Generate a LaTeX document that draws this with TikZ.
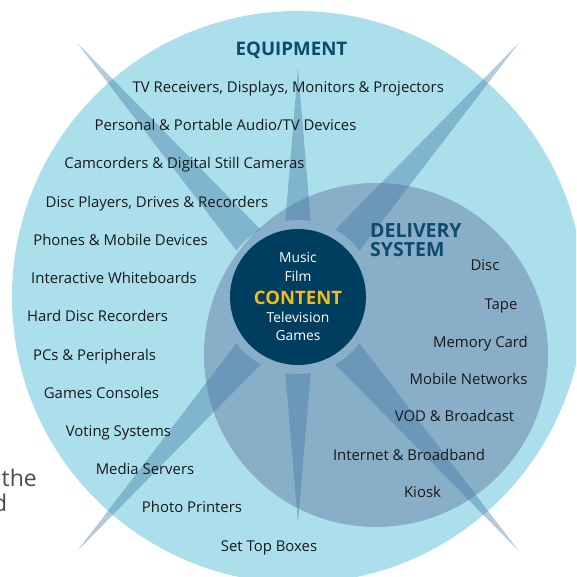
\documentclass[tikz,border=0pt]{standalone}
\usepackage{fontspec}
\setmainfont{Open Sans}
\usetikzlibrary{calc}
\definecolor{lightbg}{RGB}{171,223,235}
\definecolor{delivbg}{RGB}{137,174,199}
\definecolor{raycol}{RGB}{60,115,160}
\definecolor{navy}{RGB}{0,62,96}
\definecolor{titleblue}{RGB}{12,74,110}
\definecolor{gold}{RGB}{247,187,22}
\definecolor{pagegray}{RGB}{75,75,75}
\definecolor{itemtext}{RGB}{25,25,25}
\begin{document}
\begin{tikzpicture}[x=1pt,y=1pt,
  raystyle/.style={fill=raycol,fill opacity=0.38},
  item/.style={font=\fontsize{14.9}{17}\selectfont,anchor=base,inner sep=0pt,text=itemtext},
  title/.style={font=\fontsize{18.7}{20}\selectfont\bfseries,inner sep=0pt,text=titleblue},
  inner/.style={font=\fontsize{13.8}{16}\selectfont,anchor=base,inner sep=0pt,text=white},
  pagetext/.style={font=\fontsize{23}{26}\selectfont,anchor=base east,inner sep=0pt,text=pagegray}]
\useasboundingbox (0,0) rectangle (576,-577);
\coordinate (c) at (298,-297);
\begin{scope}
\clip (0,0) rectangle (576,-577);
\fill[lightbg] (c) circle[radius=286];
\fill[delivbg] (376,-355) circle[radius=172];
\foreach \a/\d/\L in {90/9.5/229,270/9.5/226,49/12/337,131/12/337,-49/12/337,-131/12/337}{
  \fill[raystyle] ($(c)+(\a-\d:77)$) -- ($(c)+(\a:\L)$) -- ($(c)+(\a+\d:77)$)
     arc[start angle=\a+\d,end angle=\a-\d,radius=77] -- cycle;
}
\end{scope}
\node[circle,fill=navy,minimum size=136pt,inner sep=0pt] (content) at (c) {};
% content texts
\node[inner] (music) at (298,-262.3) {Music};
\node[inner] (film) at (298,-281) {Film};
\node[inner,font=\fontsize{18.5}{20}\selectfont\bfseries,text=gold] (contentlbl) at (298,-304) {CONTENT};
\node[inner] (tv) at (298,-322.7) {Television};
\node[inner] (games) at (298,-340.5) {Games};
% titles
\node[title,anchor=base] (equip) at (291.5,-55.7) {EQUIPMENT};
\node[title,anchor=base west,font=\fontsize{19.5}{21}\selectfont\bfseries] (deliv1) at (370,-237.3) {DELIVERY};
\node[title,anchor=base west,font=\fontsize{19.5}{21}\selectfont\bfseries] (deliv2) at (370,-256.7) {SYSTEM};
% equipment list
\node[item] (e1) at (288.3,-92.6) {TV Receivers, Displays, Monitors \& Projectors};
\node[item] (e2) at (225.5,-130.8) {Personal \& Portable Audio/TV Devices};
\node[item] (e3) at (184.5,-169) {Camcorders \& Digital Still Cameras};
\node[item] (e4) at (157,-207.2) {Disc Players, Drives \& Recorders};
\node[item] (e5) at (120.5,-245.4) {Phones \& Mobile Devices};
\node[item] (e6) at (114,-283.6) {Interactive Whiteboards};
\node[item] (e7) at (97.5,-321.8) {Hard Disc Recorders};
\node[item] (e8) at (94.5,-360) {PCs \& Peripherals};
\node[item] (e9) at (101.5,-398.2) {Games Consoles};
\node[item] (e10) at (118.5,-436.4) {Voting Systems};
\node[item] (e11) at (145,-474.6) {Media Servers};
\node[item] (e12) at (192,-512.8) {Photo Printers};
\node[item] (e13) at (269,-551) {Set Top Boxes};
% delivery list
\node[item] (d1) at (485,-270.7) {Disc};
\node[item] (d2) at (501,-309) {Tape};
\node[item] (d3) at (480.5,-347.3) {Memory Card};
\node[item] (d4) at (468.5,-384.3) {Mobile Networks};
\node[item] (d5) at (454.5,-421.7) {VOD \& Broadcast};
\node[item] (d6) at (409,-460) {Internet \& Broadband};
\node[item] (d7) at (422.5,-497.7) {Kiosk};
% cut-off page text
\begin{scope}
\clip (0,0) rectangle (576,-577);
\node[pagetext] (pg1) at (37,-486.7) {the};
\node[pagetext] (pg2) at (7.5,-511.7) {d};
\end{scope}
\end{tikzpicture}
\end{document}
